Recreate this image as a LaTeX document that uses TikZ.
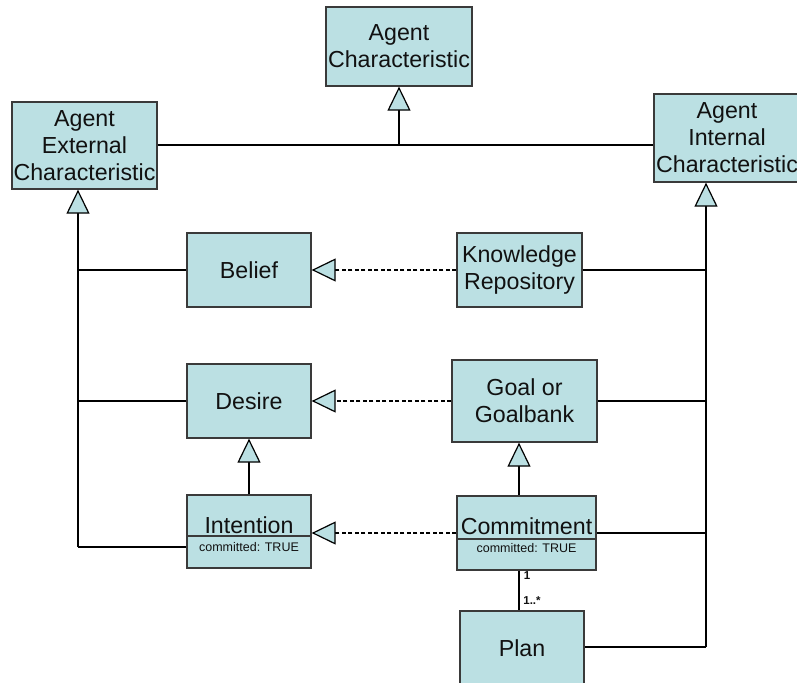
\documentclass[tikz,border=0pt]{standalone}
\usepackage{fontspec}
\setmainfont{Liberation Sans}
\usetikzlibrary{arrows.meta}
\definecolor{boxfill}{HTML}{BBE0E3}
\definecolor{boxedge}{HTML}{3A3A3A}
\definecolor{ink}{HTML}{111111}
\begin{document}
\begin{tikzpicture}[x=1pt,y=-1pt,
  box/.style={draw=boxedge, line width=1.3pt, fill=boxfill, inner sep=0pt, align=center,
    font=\fontsize{23.2}{27}\selectfont, text=ink},
  lbl/.style={inner sep=0pt, font=\fontsize{23.2}{27}\selectfont, text=ink},
  attr/.style={inner sep=0pt, font=\fontsize{12.5}{14}\selectfont, text=ink},
  mult/.style={inner sep=0pt, font=\fontsize{11.5}{13}\selectfont\bfseries, text=ink},
  divider/.style={draw=boxedge, line width=1.3pt},
  conn/.style={draw=black, line width=1.2pt},
  gen/.style={conn, -{Triangle[length=24pt,width=23pt,fill=boxfill,line width=1.2pt]}},
  real/.style={draw=black, line width=1.7pt, dash pattern=on 4pt off 2.5pt,
    -{Triangle[length=24pt,width=23pt,fill=boxfill,line width=1.2pt]}}]
\clip (0,0) rectangle (797,682);
\fill[white] (0,0) rectangle (797,682);

% boxes
\node[box, minimum width=146pt, minimum height=79pt] (AC) at (399,46.5) {Agent\\Characteristic};
\node[box, minimum width=145pt, minimum height=87pt] (AE) at (84.5,145.5) {Agent\\External\\Characteristic};
\node[box, minimum width=146pt, minimum height=88pt] (AI) at (727,138) {Agent\\Internal\\Characteristic};
\node[box, minimum width=124pt, minimum height=74pt] (Belief) at (249,270) {Belief};
\node[box, minimum width=125pt, minimum height=74pt] (KR) at (519.5,270) {Knowledge\\Repository};
\node[box, minimum width=124pt, minimum height=74pt] (Desire) at (249,401) {Desire};
\node[box, minimum width=145pt, minimum height=82pt] (Goal) at (524.5,401) {Goal or\\Goalbank};
\node[box, minimum width=124pt, minimum height=73pt] (Intention) at (249,531.5) {};
\node[box, minimum width=139pt, minimum height=74pt] (Commitment) at (526.5,533) {};
\node[box, minimum width=124pt, minimum height=74pt] (Plan) at (522,648) {Plan};

% compartments
\draw[divider] ([yshift=-4.5pt]Intention.west) -- ([yshift=-4.5pt]Intention.east);
\draw[divider] ([yshift=-6pt]Commitment.west) -- ([yshift=-6pt]Commitment.east);
\node[lbl, anchor=base] (IntName) at (249,533) {Intention};
\node[attr, anchor=base] (IntAttr) at (249,551.5) {committed: TRUE};
\node[lbl, anchor=base] (ComName) at (526.5,534) {Commitment};
\node[attr, anchor=base] (ComAttr) at (526.5,552.5) {committed: TRUE};

% junction coordinates
\coordinate (J) at (399,145);
\coordinate (L) at (78,547);
\coordinate (R) at (706,647);
\coordinate (CX) at (519,0);

% top generalization
\draw[conn] (AE.east |- J) -- (AI.west |- J);
\draw[gen] (J) -- (AC.south);

% left column
\draw[gen] (L) -- (AE.south -| L);
\draw[conn] (Belief.west) -- (Belief.west -| L);
\draw[conn] (Desire.west) -- (Desire.west -| L);
\draw[conn] (L) -- (L -| Intention.west);

% right column
\draw[gen] (R) -- (AI.south -| R);
\draw[conn] (KR.east) -- (KR.east -| R);
\draw[conn] (Goal.east) -- (Goal.east -| R);
\draw[conn] (Commitment.east) -- (Commitment.east -| R);
\draw[conn] (R) -- (R -| Plan.east);

% realizations
\draw[real] (KR.west) -- (Belief.east);
\draw[real] (Goal.west) -- (Goal.west -| Desire.east);
\draw[real] (Commitment.west) -- (Commitment.west -| Intention.east);

% inner generalizations
\draw[gen] (Intention.north) -- (Desire.south);
\draw[gen] (Commitment.north -| CX) -- (Goal.south -| CX);

% association
\draw[conn] (Commitment.south -| CX) -- (Plan.north -| CX);
\node[mult] (m1) at (527,575.5) {1};
\node[mult] (m2) at (532,601) {1..*};
\end{tikzpicture}
\end{document}
